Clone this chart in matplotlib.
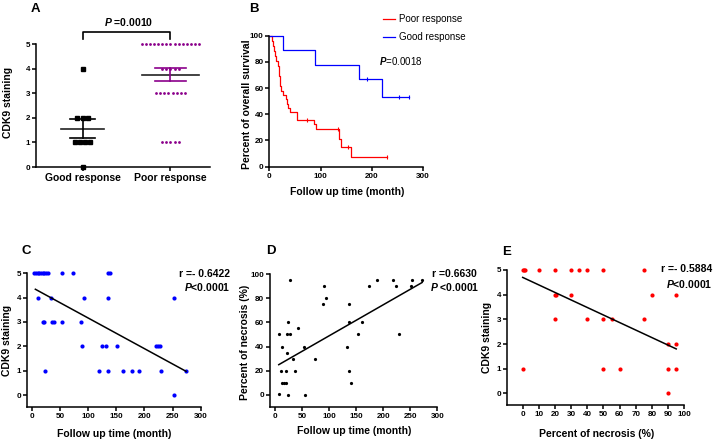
import numpy as np
import matplotlib
matplotlib.use('Agg')
import matplotlib.pyplot as plt
from matplotlib.lines import Line2D

plt.rcParams['font.family'] = ['Liberation Sans', 'DejaVu Sans']
plt.rcParams['font.weight'] = 'bold'
plt.rcParams['mathtext.fontset'] = 'custom'
plt.rcParams['mathtext.it'] = 'Liberation Sans:italic'
plt.rcParams['mathtext.bf'] = 'Liberation Sans:italic:bold'
plt.rcParams['mathtext.rm'] = 'Liberation Sans'

# ---- data ----
# A: CDK9 staining per response group
groups = ['Good response', 'Poor response']
good_staining = [4, 2, 2, 2, 1, 1, 1, 1, 0]
poor_staining = [5, 5, 5, 5, 5, 5, 5, 5, 5, 5, 5, 5, 5, 5, 5,
                 4, 4, 4, 4, 4,
                 3, 3, 3, 3, 3, 3, 3, 3,
                 1, 1, 1, 1, 1]

# B: Kaplan-Meier steps (time in months, percent survival)
poor_t = [0, 5, 7, 9, 12, 14, 17, 18, 19, 20, 21, 22, 26, 32, 35, 37, 41, 55, 88, 92, 137, 140, 160, 230]
poor_s = [100, 96.2, 92.3, 88.5, 84.6, 80.8, 76.9, 73.1, 69.2, 65.4, 61.5, 57.7, 55.0, 51.5, 48.0, 45.0,
          42.0, 35.9, 32.3, 28.7, 21.5, 15.4, 7.7, 7.7]
poor_censor = [73, 135, 154, 230]
good_t = [0, 26, 90, 175, 220, 273]
good_s = [100, 88.9, 77.8, 66.7, 53.3, 53.3]
good_censor = [190, 254, 273]

# C: follow up time vs CDK9 staining
c_time = [4, 7, 10, 13, 16, 19, 22, 25, 28, 53, 73, 136, 138,
          10, 33, 92, 136, 253,
          20, 21, 35, 40, 53, 87,
          89, 124, 132, 152, 221, 224, 227,
          24, 120, 136, 162, 177, 191, 230, 274,
          252]
c_cdk9 = [5, 5, 5, 5, 5, 5, 5, 5, 5, 5, 5, 5, 5,
          4, 4, 4, 4, 4,
          3, 3, 3, 3, 3, 3,
          2, 2, 2, 2, 2, 2, 2,
          1, 1, 1, 1, 1, 1, 1, 1,
          0]
c_fit = (-0.01258, 4.42)

# D: follow up time vs percent of necrosis
d_time = [8, 7, 10.5, 13.6, 12.3, 17.3, 20.3, 20.3, 21.6, 22.8, 27.7, 24.6, 23.4, 27.7, 32.6, 37, 42,
          54, 55.5, 74, 88, 90.6, 93.7, 134, 137, 137, 137, 140, 154, 160,
          174, 189, 219, 223, 230, 251, 253, 272]
d_necrosis = [50, 1, 20, 40, 10, 10, 10, 20, 35, 50, 50, 60, 0, 95, 30, 20, 55,
              40, 0, 30, 75, 90, 80, 40, 75, 60, 20, 10, 50, 60,
              90, 95, 95, 90, 50, 90, 95, 95]
d_fit = (0.2564, 23.25)

# E: percent of necrosis vs CDK9 staining
e_necrosis = [0, 0.6, 1.4, 10, 20, 30, 35, 40, 50, 75,
              20, 20.5, 30, 80, 95,
              20, 40, 50, 55, 75,
              90, 95,
              0, 50, 60, 90, 95,
              90]
e_cdk9 = [5, 5, 5, 5, 5, 5, 5, 5, 5, 5,
          4, 4, 4, 4, 4,
          3, 3, 3, 3, 3,
          2, 2,
          1, 1, 1, 1, 1,
          0]
e_fit = (-0.0305, 4.70)

W, H = 714, 444
fig = plt.figure(figsize=(W / 100, H / 100), dpi=100)


def px_axes(left, right, top, bottom):
    return fig.add_axes([left / W, 1 - bottom / H, (right - left) / W, (bottom - top) / H])


def style(ax, labelsize=5.8):
    for s in ['top', 'right']:
        ax.spines[s].set_visible(False)
    for s in ['left', 'bottom']:
        ax.spines[s].set_linewidth(1.1)
    ax.tick_params(width=1.1, length=3, labelsize=labelsize, pad=1.2)


def set_labels(ax, xlabel, ylabel, xpos, ypos, size=7.5):
    ax.set_xlabel(xlabel, fontsize=size, fontweight='bold')
    ax.set_ylabel(ylabel, fontsize=size, fontweight='bold')
    if xpos is not None:
        ax.xaxis.set_label_coords(xpos[0] / W, 1 - xpos[1] / H, transform=fig.transFigure)
        ax.xaxis.label.set_va('center')
    ax.yaxis.set_label_coords(ypos[0] / W, 1 - ypos[1] / H, transform=fig.transFigure)
    ax.yaxis.label.set_va('center')


def ftext(x, y, s, **kw):
    fig.text(x / W, 1 - y / H, s, **kw)


def spread(values, spacing):
    values = np.asarray(values)
    offs = np.zeros(len(values))
    for v in np.unique(values):
        idx = np.where(values == v)[0]
        offs[idx] = (np.arange(len(idx)) - (len(idx) - 1) / 2) * spacing
    return offs


def step_value(ts, ss, t):
    i = np.searchsorted(ts, t, side='right') - 1
    return ss[i]


# ---- A ----
axA = px_axes(36, 210, 44, 167)
style(axA)
axA.set_xlim(-0.53, 1.45)
axA.set_ylim(0, 5)
axA.set_yticks(range(0, 6))
axA.set_xticks([0, 1])
axA.set_xticklabels(groups, fontsize=7.5, fontweight='bold')
axA.tick_params(axis='x', pad=1.5)
axA.plot(0 + spread(good_staining, 0.058), good_staining, 's', color='black', ms=3.2, clip_on=False)
axA.plot(1 + spread(poor_staining, 0.047), poor_staining, 'o', color='#8b008b', ms=2.0, mew=0, clip_on=False)
for i, (vals, col, mw, cw) in enumerate([(good_staining, 'black', 0.24, 0.14),
                                           (poor_staining, '#8b008b', 0.32, 0.18)]):
    m = np.mean(vals)
    sem = np.std(vals, ddof=1) / np.sqrt(len(vals))
    axA.plot([i - mw, i + mw], [m, m], color='#222222', lw=1.2)
    axA.plot([i, i], [m - sem, m + sem], color=col, lw=1.2)
    axA.plot([i - cw, i + cw], [m + sem, m + sem], color=col, lw=1.2)
    axA.plot([i - cw, i + cw], [m - sem, m - sem], color=col, lw=1.2)
axA.plot([0, 0, 1, 1], [5.2, 5.5, 5.5, 5.2], color='black', lw=1.2, clip_on=False)
set_labels(axA, '', 'CDK9 staining', None, (8, 102))
ftext(129, 26.2, r'$\mathbf{P}$ =0.0010', fontsize=7.5, fontweight='bold', ha='center', va='baseline')
ftext(30.5, 12.3, 'A', fontsize=9.5, fontweight='bold', va='baseline')

# ---- B ----
axB = px_axes(269.3, 423, 35.7, 166.7)
style(axB)
axB.set_xlim(0, 300)
axB.set_ylim(0, 100)
axB.set_xticks([0, 100, 200, 300])
axB.set_yticks(range(0, 101, 20))
axB.step(poor_t, poor_s, where='post', color='#ff0000', lw=0.9, clip_on=False)
axB.step(good_t, good_s, where='post', color='#0000ff', lw=0.9, clip_on=False)
axB.plot(poor_censor, [step_value(poor_t, poor_s, t) for t in poor_censor], '|', color='#ff0000', ms=3, mew=0.8)
axB.plot(good_censor, [step_value(good_t, good_s, t) for t in good_censor], '|', color='#0000ff', ms=3, mew=0.8)
set_labels(axB, 'Follow up time (month)', 'Percent of overall survival', (346.7, 192.3), (246.5, 104))
fig.legend(handles=[Line2D([], [], color='#ff0000', lw=0.9), Line2D([], [], color='#0000ff', lw=0.9)],
           labels=['Poor response', 'Good response'], loc='upper left',
           bbox_to_anchor=(382.7 / W, 1 - 14 / H), frameon=False, borderpad=0, borderaxespad=0,
           handlelength=1.25, handletextpad=0.4, labelspacing=0.85,
           prop={'size': 7, 'weight': 'normal'})
ftext(379, 65, r'$P$=0.0018', fontsize=7, fontweight='normal', va='baseline')
ftext(249.3, 12.3, 'B', fontsize=9.5, fontweight='bold', va='baseline')

# ---- C ----
axC = px_axes(26.7, 200.7, 273.3, 406.7)
style(axC)
axC.set_xlim(-9.4, 300)
axC.set_ylim(-0.48, 5)
axC.set_xticks(range(0, 301, 50))
axC.set_yticks(range(0, 6))
axC.plot(c_time, c_cdk9, 'o', color='#0000ff', ms=3.0, mew=0, clip_on=False)
xs = np.array([min(c_time) + 2, max(c_time)])
axC.plot(xs, c_fit[0] * xs + c_fit[1], color='black', lw=1.1)
set_labels(axC, 'Follow up time (month)', 'CDK9 staining', (113.7, 434), (6.7, 340))
ftext(230, 276.7, 'r =- 0.6422', fontsize=7.5, fontweight='bold', ha='right', va='baseline')
ftext(230, 291, r'$\mathbf{P}$<0.0001', fontsize=7.5, fontweight='bold', ha='right', va='baseline')
ftext(21.7, 254.3, 'C', fontsize=9.5, fontweight='bold', va='baseline')

# ---- D ----
axD = px_axes(270, 437.3, 274, 406.7)
style(axD)
axD.set_xlim(-9.2, 300)
axD.set_ylim(-9.7, 100)
axD.set_xticks(range(0, 301, 50))
axD.set_yticks(range(0, 101, 20))
axD.plot(d_time, d_necrosis, 'o', color='black', ms=2.3, mew=0, clip_on=False)
xs = np.array([min(d_time), max(d_time)])
axD.plot(xs, d_fit[0] * xs + d_fit[1], color='black', lw=1.1)
set_labels(axD, 'Follow up time (month)', 'Percent of necrosis (%)', (353.7, 431), (244.5, 342))
ftext(431.7, 276.7, 'r =0.6630', fontsize=7.5, fontweight='bold', va='baseline')
ftext(430, 290.7, r'$\mathbf{P}$ <0.0001', fontsize=7.5, fontweight='bold', va='baseline')
ftext(266, 254.3, 'D', fontsize=9.5, fontweight='bold', va='baseline')

# ---- E ----
axE = px_axes(506.7, 684.3, 270, 405)
style(axE)
axE.set_xlim(-9.9, 100)
axE.set_ylim(-0.47, 5)
axE.set_xticks(range(0, 101, 10))
axE.set_yticks(range(0, 6))
axE.plot(e_necrosis, e_cdk9, 'o', color='#ff0000', ms=3.0, mew=0, clip_on=False)
xs = np.array([min(e_necrosis), max(e_necrosis)])
axE.plot(xs, e_fit[0] * xs + e_fit[1], color='black', lw=1.1)
set_labels(axE, 'Percent of necrosis (%)', 'CDK9 staining', (596.7, 434), (486.7, 337))
ftext(712.3, 272.3, 'r =- 0.5884', fontsize=7.5, fontweight='bold', ha='right', va='baseline')
ftext(712.3, 288.3, r'$\mathbf{P}$<0.0001', fontsize=7.5, fontweight='bold', ha='right', va='baseline')
ftext(501.7, 255, 'E', fontsize=9.5, fontweight='bold', va='baseline')

fig.savefig('out.png', dpi=100)
